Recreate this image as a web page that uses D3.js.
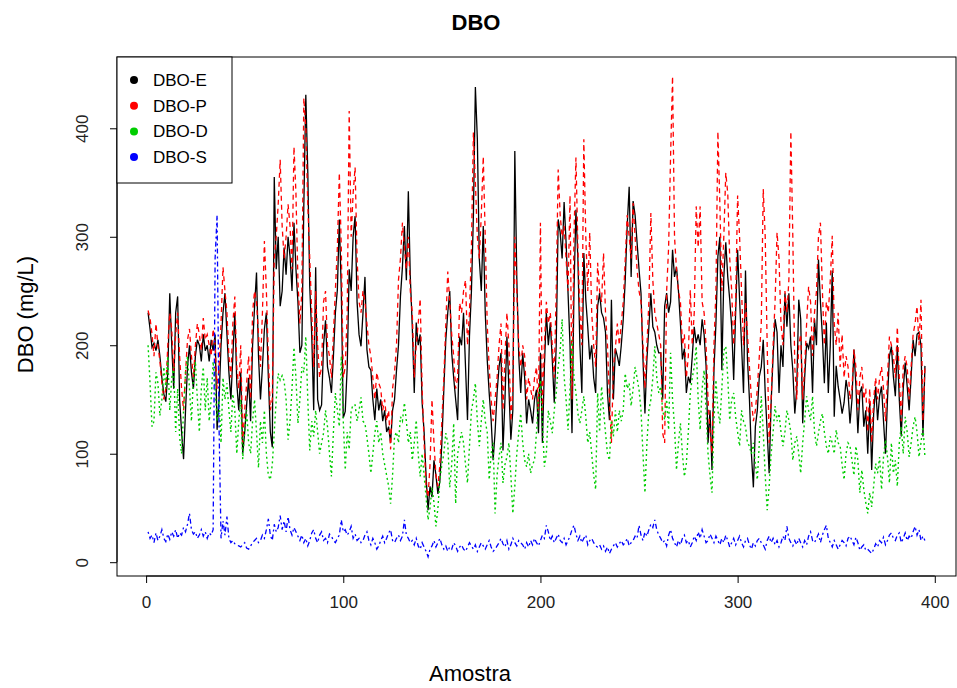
<!DOCTYPE html>
<html>
<head>
<meta charset="utf-8">
<script src="https://cdn.jsdelivr.net/npm/d3@7"></script>
<style>
  html, body { margin: 0; padding: 0; background: #fff; }
  svg { display: block; font-family: "Liberation Sans", Arial, sans-serif; }
</style>
</head>
<body>
<svg id="chart" width="957" height="688"></svg>
<script>
// ---- DATA ----
const seriesNames = ["DBO-E", "DBO-P", "DBO-D", "DBO-S"];
const seriesColors = ["#000000", "#ff0000", "#00cd00", "#0000ff"];
const xTicks = [0, 100, 200, 300, 400];
const yTicks = [0, 100, 200, 300, 400];

const dboE = [
230,215,198,202,195,205,190,170,155,148,
175,248,200,160,230,245,150,120,95,140,
180,200,175,160,190,205,200,185,210,195,
200,185,205,195,210,122,150,200,230,248,
210,175,150,190,230,165,140,175,100,120,
145,170,130,200,235,267,190,150,180,215,
230,170,120,106,355,270,300,236,250,290,
265,300,282,250,313,270,240,193,200,330,
431,360,254,210,140,272,150,140,145,200,
223,180,170,156,190,230,251,316,250,133,
139,180,270,250,300,319,240,210,199,230,
263,196,180,177,150,131,160,140,150,130,
140,120,125,110,140,150,177,200,245,272,
310,260,342,263,217,156,221,200,210,147,
120,79,48,70,60,94,80,63,75,110,
159,205,230,250,193,170,150,131,208,200,
230,180,131,208,250,320,438,390,279,250,
310,230,187,156,131,94,120,156,180,193,
103,150,208,160,113,140,379,263,190,156,
193,170,128,150,140,128,150,159,119,193,
110,180,230,200,221,187,147,200,316,304,
280,332,295,248,200,119,250,325,279,200,
156,285,242,217,187,200,170,156,236,248,
230,225,212,156,131,242,150,197,190,181,
200,224,260,310,346,263,333,320,295,270,
248,187,137,187,217,248,217,212,200,193,
193,150,236,248,230,240,288,263,272,250,
220,187,197,156,171,165,190,217,202,210,
200,224,210,181,110,140,85,177,220,282,
300,177,263,295,263,242,217,168,230,288,
242,200,156,269,187,150,100,69,125,140,
171,180,205,156,120,82,147,190,224,212,
156,200,180,248,217,248,200,177,137,160,
242,224,128,170,202,197,208,156,224,200,
279,240,208,165,221,156,200,269,134,181,
162,150,137,147,168,156,128,150,196,162,
119,156,162,125,140,100,147,85,137,162,
131,153,162,130,100,150,190,199,171,153,
200,150,116,160,184,162,140,171,205,190,
210,212,200,116,181
];

const dboP = [
232,225,210,190,220,200,185,165,150,160,
200,230,215,175,210,230,190,160,140,175,
205,215,190,170,200,220,210,195,225,205,
210,200,190,215,200,160,180,220,272,250,
230,190,170,220,245,180,160,200,110,140,
165,190,150,230,250,240,210,180,230,296,
250,190,140,150,280,300,330,371,310,280,
300,330,310,270,383,340,260,220,250,428,
400,330,280,230,180,250,200,170,180,240,
250,200,190,170,210,251,290,359,290,170,
180,230,416,300,340,364,280,240,230,250,
240,220,200,190,170,150,175,165,160,140,
150,130,140,104,160,175,200,260,280,313,
290,270,300,250,230,170,200,220,243,160,
110,70,60,90,150,110,80,70,90,130,
170,220,268,240,210,190,160,170,239,230,
250,260,200,230,290,396,350,300,280,320,
374,300,220,180,150,130,150,170,200,220,
140,190,230,200,130,160,300,250,200,180,
200,190,150,170,160,150,170,180,140,313,
140,200,240,220,230,200,170,250,362,320,
300,310,280,250,338,150,300,373,290,230,
200,390,300,250,304,230,200,180,276,250,
240,285,230,200,150,110,180,197,220,200,
220,240,279,320,300,280,331,300,270,250,
240,200,160,200,240,322,260,230,220,210,
200,119,110,250,290,374,448,300,270,250,
240,200,210,170,190,251,200,230,328,290,
328,240,230,200,150,120,100,200,250,397,
330,250,300,359,340,280,250,200,240,338,
300,250,200,240,210,180,150,130,140,160,
190,220,344,300,200,110,150,200,240,304,
280,220,200,250,230,260,397,300,180,150,
200,210,150,180,220,254,240,190,230,250,
300,313,250,200,240,230,260,301,220,200,
230,180,210,170,190,180,150,160,196,180,
140,170,180,150,160,120,160,110,150,170,
150,170,180,160,130,170,208,200,190,170,
217,170,130,180,190,180,150,180,210,220,
236,200,242,130,180
];

const dboD = [
200,165,125,130,175,165,135,150,180,160,
190,140,170,180,120,160,115,100,140,175,
190,160,130,170,185,150,120,160,180,140,
170,130,150,185,160,130,150,110,170,150,
165,140,120,155,140,100,130,150,95,120,
140,110,100,130,150,120,87,130,110,140,
100,80,76,90,120,150,174,168,172,167,
150,113,130,160,198,170,128,150,180,175,
208,150,103,130,116,140,120,100,110,119,
140,125,100,79,120,156,140,125,190,130,
85,120,104,140,145,145,130,140,152,130,
128,115,100,82,100,119,130,110,120,100,
90,80,70,54,80,116,120,110,134,130,
147,130,110,120,94,110,131,100,79,100,
80,60,39,50,69,55,33,50,76,90,
100,119,110,69,90,128,54,100,110,120,
110,90,73,107,140,150,165,130,107,130,
150,130,120,76,100,110,45,80,97,110,
73,90,97,110,80,45,70,100,120,137,
110,94,88,100,82,90,94,120,150,168,
130,88,100,140,130,119,140,156,180,195,
224,171,150,122,160,205,170,156,137,128,
140,153,134,110,120,100,80,67,156,120,
162,140,119,100,94,131,116,140,120,140,
130,140,174,160,165,144,160,180,170,159,
140,100,64,110,140,150,170,199,170,156,
162,140,131,150,122,193,150,125,85,110,
128,100,79,91,120,156,170,180,199,150,
122,160,177,140,100,80,64,130,168,140,
128,160,195,199,170,131,150,156,134,120,
107,140,130,125,110,107,100,110,90,76,
110,153,120,80,48,70,100,120,144,130,
137,120,107,120,140,131,120,94,110,116,
100,82,110,131,153,140,131,153,120,107,
119,130,137,120,107,100,116,110,100,122,
110,107,90,76,100,110,107,94,80,107,
94,64,85,67,55,45,64,51,70,91,
82,97,67,97,113,97,73,110,82,94,
70,110,125,100,134,120,97,110,125,134,
120,97,110,125,97
];

const dboS = [
28,22,25,18,27,20,24,30,22,19,
26,21,28,24,30,22,27,25,32,28,
35,45,30,26,28,22,25,30,24,28,
22,27,25,30,280,320,125,22,38,25,
42,22,18,20,17,16,15,14,16,18,
13,12,15,18,20,22,18,20,25,22,
30,40,25,20,35,28,32,43,30,38,
28,42,30,25,32,28,24,20,25,18,
22,15,20,27,30,22,18,25,28,20,
22,18,26,24,20,18,22,25,39,28,
30,25,28,33,22,26,20,22,18,20,
25,28,20,16,22,18,12,15,20,24,
18,22,27,30,20,18,22,25,20,24,
39,25,22,18,20,16,22,15,12,18,
14,10,5,12,15,20,14,18,22,16,
12,15,10,14,12,18,15,10,14,16,
12,10,14,18,15,12,16,10,14,18,
15,12,16,20,14,10,12,15,18,22,
17,14,20,12,16,22,18,15,20,18,
16,12,18,14,20,16,22,18,15,20,
25,22,34,28,20,24,18,22,26,20,
18,22,16,20,24,30,34,26,20,24,
18,22,25,16,20,22,18,15,14,16,
12,15,10,14,8,12,15,18,14,17,
20,16,18,22,15,18,20,24,22,34,
25,20,28,24,30,35,32,39,30,25,
22,18,20,15,25,30,22,18,14,20,
16,22,25,18,20,14,18,24,20,28,
22,30,24,18,20,26,22,18,24,20,
16,22,18,25,20,14,18,22,16,20,
24,18,14,20,22,16,12,18,15,20,
22,18,16,12,20,24,18,22,16,20,
14,18,24,20,33,22,18,15,20,16,
22,18,14,20,16,24,28,20,18,22,
26,18,25,30,34,22,18,14,20,16,
12,16,20,18,15,22,24,20,16,23,
18,11,14,16,11,12,10,8,12,17,
14,20,18,23,16,20,25,27,22,20,
25,27,18,22,27,20,24,22,28,33,
25,30,20,24,20
];

const allSeries = [dboE, dboP, dboD, dboS];
const dashes = [null, "5,4", "2,3", "2,3,5,3"];
const widths = [1.3, 1.3, 1.4, 1.3];

// ---- LAYOUT ----
const svg = d3.select("#chart");
const box = { left: 117, right: 956, top: 57, bottom: 576 };

const n = d3.max(allSeries, s => s.length);
const xr = [1, n];
const xpad = (xr[1] - xr[0]) * 0.04;
const x = d3.scaleLinear().domain([xr[0] - xpad, xr[1] + xpad]).range([box.left, box.right]);

const ymin = d3.min(allSeries, s => d3.min(s));
const ymax = d3.max(allSeries, s => d3.max(s));
const ypad = (ymax - ymin) * 0.04;
const y = d3.scaleLinear().domain([ymin - ypad, ymax + ypad]).range([box.bottom, box.top]);

svg.append("clipPath").attr("id", "clip").append("rect")
  .attr("x", box.left).attr("y", box.top)
  .attr("width", box.right - box.left).attr("height", box.bottom - box.top);

const line = d3.line().x((d, i) => x(i + 1)).y(d => y(d));

const g = svg.append("g").attr("clip-path", "url(#clip)");
allSeries.forEach((s, k) => {
  g.append("path")
    .datum(s)
    .attr("d", line)
    .attr("fill", "none")
    .attr("stroke", seriesColors[k])
    .attr("stroke-width", widths[k])
    .attr("stroke-dasharray", dashes[k]);
});

svg.append("rect")
  .attr("x", box.left).attr("y", box.top)
  .attr("width", box.right - box.left).attr("height", box.bottom - box.top)
  .attr("fill", "none").attr("stroke", "#000").attr("stroke-width", 1);

// x axis
const xAxis = d3.axisBottom(x).tickValues(xTicks).tickSize(7).tickPadding(13).tickFormat(d3.format("d"));
const gx = svg.append("g").attr("transform", `translate(0,${box.bottom})`).call(xAxis);
gx.select(".domain").attr("d", `M${x(xTicks[0])},0H${x(xTicks[xTicks.length-1])}`).attr("stroke", "#000");
gx.selectAll(".tick line").attr("stroke", "#000");
gx.selectAll(".tick text").attr("font-size", 17).attr("fill", "#222")
  .attr("font-family", "Liberation Sans, Arial, sans-serif");

// y axis
const yAxis = d3.axisLeft(y).tickValues(yTicks).tickSize(7).tickPadding(0).tickFormat(d3.format("d"));
const gy = svg.append("g").attr("transform", `translate(${box.left},0)`).call(yAxis);
gy.select(".domain").attr("d", `M0,${y(yTicks[0])}V${y(yTicks[yTicks.length-1])}`).attr("stroke", "#000");
gy.selectAll(".tick line").attr("stroke", "#000");
gy.selectAll(".tick text")
  .attr("font-size", 17).attr("fill", "#222")
  .attr("font-family", "Liberation Sans, Arial, sans-serif")
  .attr("x", 0).attr("dy", null)
  .attr("text-anchor", "middle")
  .attr("transform", "translate(-29,0) rotate(-90)");

// titles
svg.append("text").attr("x", 476).attr("y", 30)
  .attr("text-anchor", "middle").attr("font-size", 22).attr("font-weight", "bold")
  .text("DBO");
svg.append("text").attr("x", 470).attr("y", 681)
  .attr("text-anchor", "middle").attr("font-size", 22)
  .text("Amostra");
svg.append("text")
  .attr("transform", `translate(33,${(box.top + box.bottom) / 2 - 2}) rotate(-90)`)
  .attr("text-anchor", "middle").attr("font-size", 22)
  .text("DBO (mg/L)");

// legend
const lg = svg.append("g");
lg.append("rect").attr("x", box.left).attr("y", box.top)
  .attr("width", 115).attr("height", 126)
  .attr("fill", "#fff").attr("stroke", "#000").attr("stroke-width", 1);
seriesNames.forEach((name, k) => {
  const cy = box.top + 23 + k * 25.7;
  lg.append("circle").attr("cx", box.left + 17).attr("cy", cy).attr("r", 4)
    .attr("fill", seriesColors[k]);
  lg.append("text").attr("x", box.left + 36).attr("y", cy + 6)
    .attr("font-size", 17).attr("fill", "#000").text(name);
});
</script>
</body>
</html>
